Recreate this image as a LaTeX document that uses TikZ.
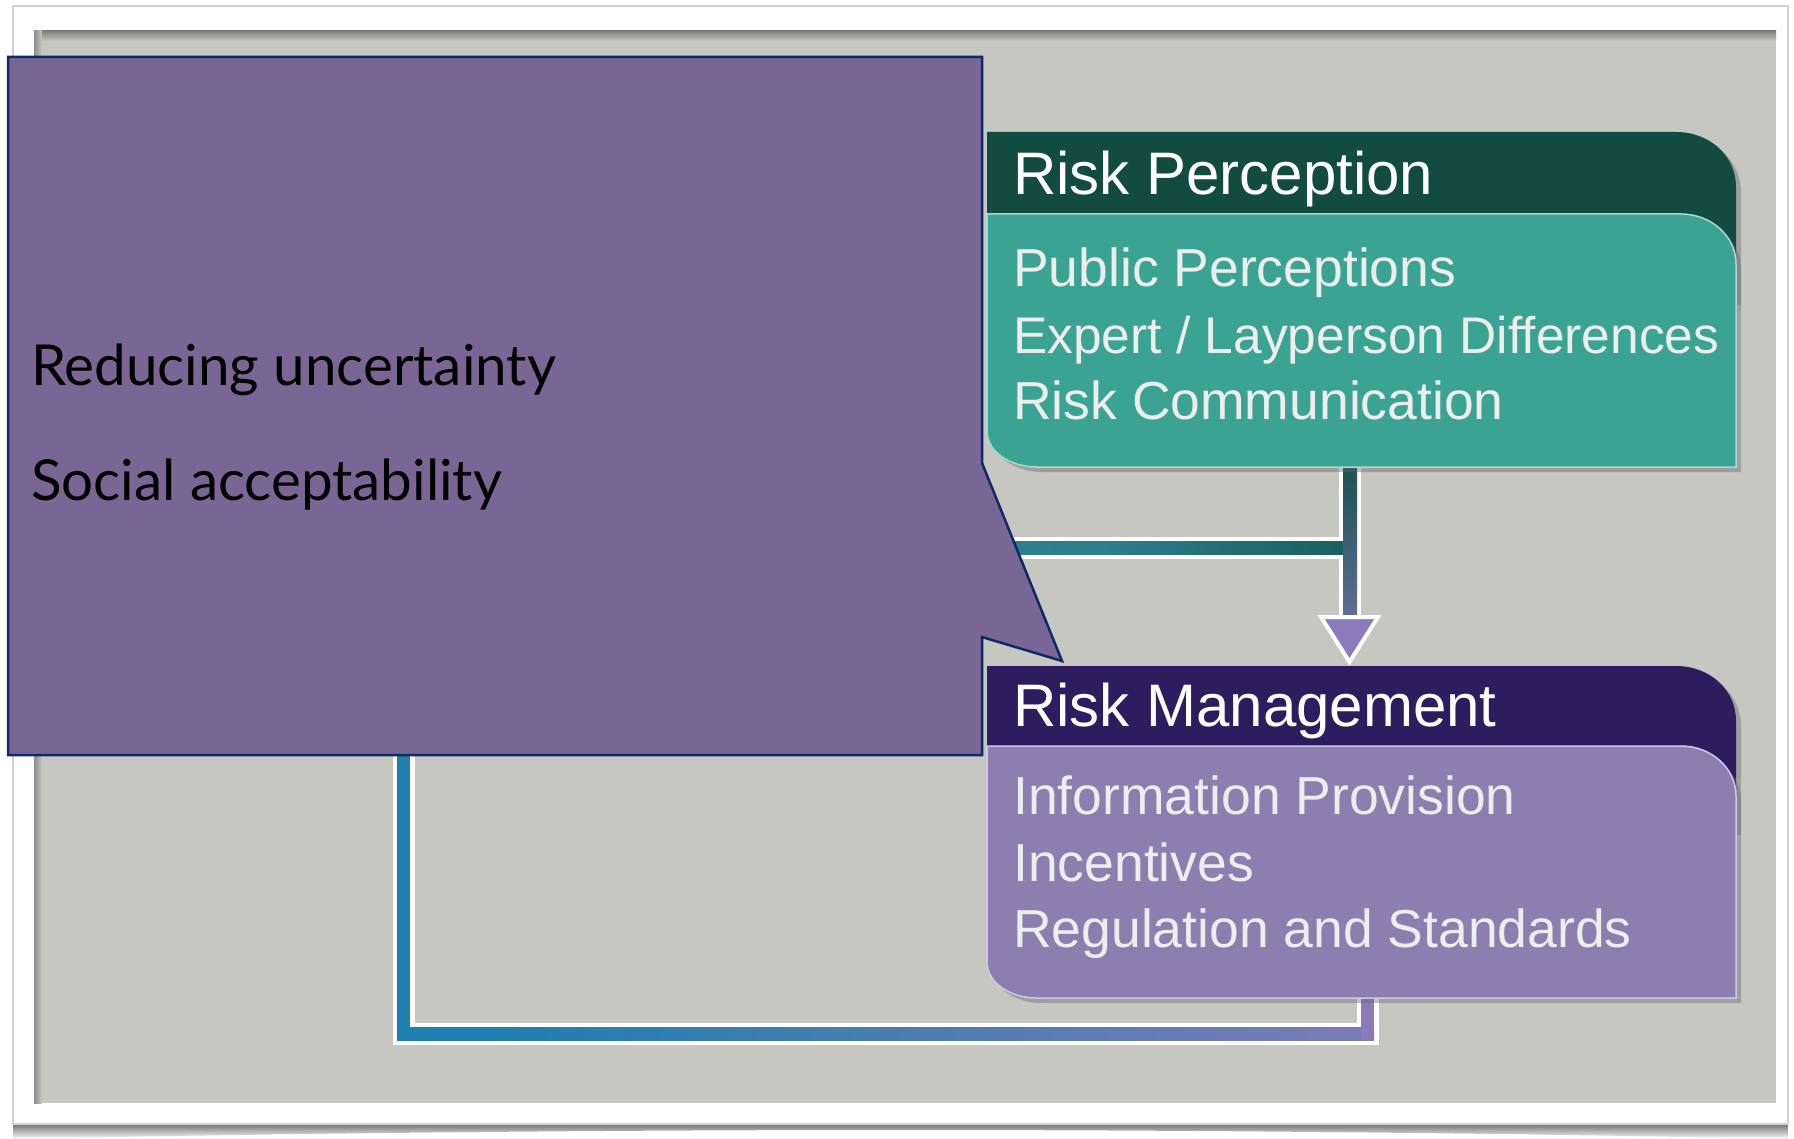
\documentclass[tikz,border=0pt]{standalone}
\usepackage{fontspec}
\setmainfont{Liberation Sans}
\newfontfamily\calloutfont{Lato}
\usetikzlibrary{calc,shadows}

\definecolor{pagegrey}{HTML}{C6C7C1}
\definecolor{calloutfill}{HTML}{7A6695}
\definecolor{calloutline}{HTML}{0C2A66}
\definecolor{percHead}{HTML}{124B40}
\definecolor{percBody}{HTML}{3BA394}
\definecolor{percEdge}{HTML}{A9D8CD}
\definecolor{mgmtHead}{HTML}{2C1D5E}
\definecolor{mgmtBody}{HTML}{8A7FAE}
\definecolor{mgmtEdge}{HTML}{CFC8E6}
\definecolor{loopBlue}{HTML}{1F7FAE}
\definecolor{loopViolet}{HTML}{8A7BB8}
\definecolor{feedTeal}{HTML}{2E7E8C}
\definecolor{deepTeal}{HTML}{0F4D46}
\definecolor{arrowViolet}{HTML}{8B7DBB}

\pgfdeclarehorizontalshading{loopbottom}{100bp}{color(0bp)=(loopBlue); color(30bp)=(loopBlue); color(82bp)=(loopViolet); color(100bp)=(loopViolet)}
\pgfdeclarehorizontalshading{feedback}{100bp}{color(0bp)=(loopBlue); color(62bp)=(feedTeal); color(82bp)=(deepTeal); color(100bp)=(deepTeal!75!feedTeal)}
\pgfdeclareverticalshading{shaftshade}{100bp}{color(0bp)=(arrowViolet); color(35bp)=(deepTeal!45!arrowViolet); color(70bp)=(deepTeal!85!arrowViolet); color(100bp)=(deepTeal)}

\begin{document}
\begin{tikzpicture}[x=1pt,y=-1pt,
  headtext/.style={text=white, font=\fontsize{60}{70}\selectfont, anchor=base west, inner sep=0pt},
  bodytext/.style={text=white!93!black, font=\fontsize{53.5}{64}\selectfont, anchor=base west, inner sep=0pt},
  callouttext/.style={text=black, font=\calloutfont\fontsize{56.5}{68}\selectfont, anchor=base west, inner sep=0pt},
  boxshadow/.style={drop shadow={shadow xshift=5pt, shadow yshift=-5pt, opacity=.4, fill=black!60}},
  outlineband/.style={white, line width=22pt},
  bandshadow/.style={black!60, opacity=.35, line width=22pt},
  boxframe/.style={minimum width=749pt, inner sep=0pt, outer sep=0pt}]

\useasboundingbox (0,0) rectangle (1794,1139);
\fill[white] (0,0) rectangle (1794,1139);

% photo frame with its curled shadow and the grey panel
\shade[top color=black!55, bottom color=white] (13,1124) -- (1788,1124) -- (1788,1139)
  .. controls (1200,1127) and (600,1127) .. (13,1139) -- cycle;
\draw[black!18, line width=1.5pt, fill=white] (13,6) rectangle (1788,1124);
\fill[pagegrey] (34,31) rectangle (1776,1103);
\shade[top color=black!50, bottom color=pagegrey] (34,31) rectangle (1776,41);
\shade[left color=black!45, right color=pagegrey] (34,31) rectangle (42,1103);

% invisible frames of the two boxes
\node[boxframe, minimum height=335pt] (rp) at (1361.5,299.5) {};
\node[boxframe, minimum height=332pt] (rm) at (1361.5,832) {};

% routing points of the feedback loop and the main arrow
\coordinate (mgmtOut) at ($(rm.south)+(6,0)$);
\coordinate (loopBR) at ($(mgmtOut)+(0,36)$);
\coordinate (loopBL) at (403.5,1034);
\coordinate (loopTL) at (403.5,548);
\coordinate (shaftTop) at ($(rp.south)+(-11.5,0)$);
\coordinate (junction) at (shaftTop |- loopTL);
\coordinate (shaftEnd) at ($(rm.north)+(-11.5,-49)$);
\coordinate (arrowTip) at ($(rm.north)+(-12,-4)$);

% band shadows
\begin{scope}[shift={(5,6)}]
  \draw[bandshadow] (mgmtOut) -- (loopBR) -- (loopBL) -- (loopTL) -- (junction);
  \draw[bandshadow] (shaftTop) -- (shaftEnd);
\end{scope}

% white outlines of the bands
\draw[outlineband] (mgmtOut) -- (loopBR) -- (loopBL) -- (loopTL) -- (junction);
\draw[outlineband] (shaftTop) -- (shaftEnd);

% coloured bands
\fill[loopBlue] ($(loopTL)+(-6.5,-6.5)$) rectangle ($(loopBL)+(6.5,6.5)$);
\shade[shading=loopbottom] ($(loopBL)+(-6.5,-6.5)$) rectangle ($(loopBR)+(6.5,6.5)$);
\fill[loopViolet] ($(mgmtOut)+(-6.5,0)$) rectangle ($(loopBR)+(6.5,6.5)$);
\shade[shading=feedback] ($(loopTL)+(-6.5,-6.5)$) rectangle ($(junction)+(0,6.5)$);
\shade[shading=shaftshade] ($(shaftTop)+(-7,0)$) rectangle ($(shaftEnd)+(7,0)$);

% arrow head
\draw[fill=arrowViolet, draw=white, line width=4pt, line join=miter]
  ($(arrowTip)+(-28.5,-45)$) -- ($(arrowTip)+(28.5,-45)$) -- (arrowTip) -- cycle;

% Risk Perception box
\path[fill=percHead, boxshadow] (987,132) -- (1676,132) .. controls (1709,132) and (1736,155) .. (1736,187)
  -- (1736,300) -- (987,300) -- cycle;
\path[fill=percBody, draw=percEdge, line width=1.5pt, boxshadow] (987,214) -- (1681,214)
  .. controls (1711,214) and (1736,236) .. (1736,264) -- (1736,467) -- (1037,467)
  .. controls (1009,467) and (987,451) .. (987,431) -- cycle;

% Risk Management box
\path[fill=mgmtHead, boxshadow] (987,666) -- (1676,666) .. controls (1709,666) and (1736,689) .. (1736,721)
  -- (1736,830) -- (987,830) -- cycle;
\path[fill=mgmtBody, draw=mgmtEdge, line width=1.5pt, boxshadow] (987,746) -- (1681,746)
  .. controls (1711,746) and (1736,768) .. (1736,796) -- (1736,998) -- (1037,998)
  .. controls (1009,998) and (987,982) .. (987,962) -- cycle;

% box texts
\node[headtext] (rpTitle) at (1013,194.5) {Risk Perception};
\node[bodytext] (rpItemA) at (1013,287) {Public Perceptions};
\node[bodytext, font=\fontsize{51.5}{60}\selectfont] (rpItemB) at (1013,353.5) {Expert / Layperson Differences};
\node[bodytext] (rpItemC) at (1013,420) {Risk Communication};
\node[headtext] (rmTitle) at (1013,726.5) {Risk Management};
\node[bodytext] (rmItemA) at (1013,814.6) {Information Provision};
\node[bodytext] (rmItemB) at (1013,881) {Incentives};
\node[bodytext] (rmItemC) at (1013,947) {Regulation and Standards};

% callout
\coordinate (calloutTip) at (1062,661);
\path[fill=calloutfill, draw=calloutline, line width=2.5pt] (8,57) -- (982,57) -- (982,463)
  -- (calloutTip) -- (982,637) -- (982,755) -- (8,755) -- cycle;
\node[callouttext] (noteA) at (31,385.6) {Reducing uncertainty};
\node[callouttext] (noteB) at (31,500) {Social acceptability};
\end{tikzpicture}
\end{document}
